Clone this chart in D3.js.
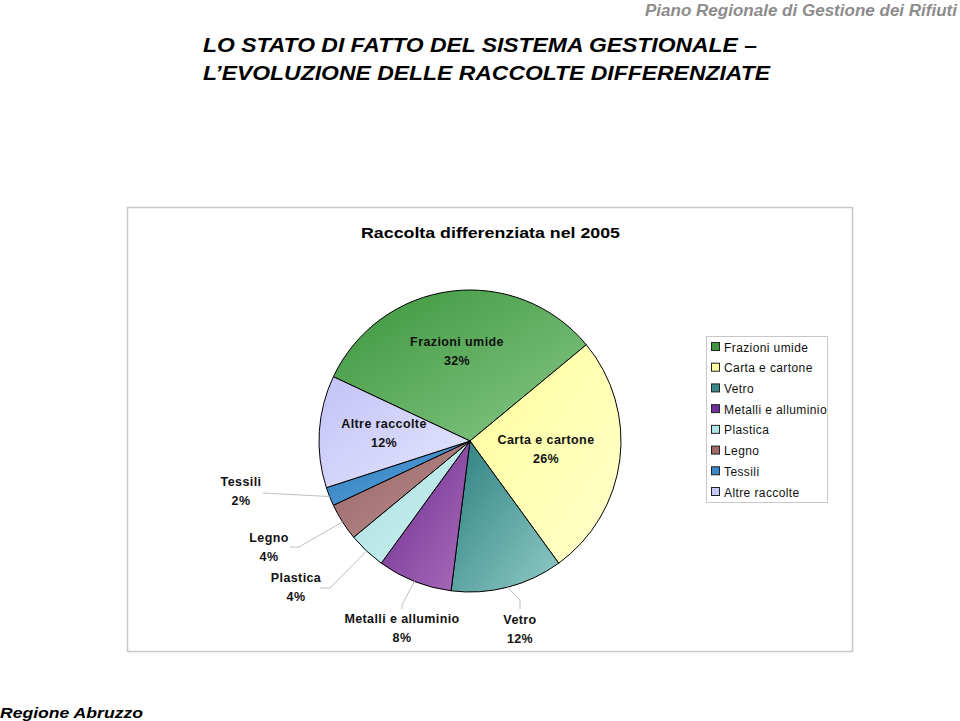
<!DOCTYPE html>
<html><head><meta charset="utf-8">
<script src="https://cdn.jsdelivr.net/npm/d3@7"></script>
<style>body{margin:0;background:#fff}svg{display:block}text{font-family:Arial,"Liberation Sans",sans-serif}</style>
</head><body>
<script>
const categories = ["Frazioni umide","Carta e cartone","Vetro","Metalli e alluminio","Plastica","Legno","Tessili","Altre raccolte"];
const values = [32,26,12,8,4,4,2,12];
const pctLabels = ["32%","26%","12%","8%","4%","4%","2%","12%"];
const colorsDark = ["#3b953b","#ffff9c","#2c8080","#6c2c8e","#a6dede","#996060","#2a7cbf","#c2c2f6"];
const colorsLight = ["#88c888","#ffffcc","#90cac6","#ab6cbb","#d2f2f2","#bb9494","#60a4da","#e6e6ff"];
const legendColors = ["#3f963f","#ffffa0","#3a8a8a","#70309a","#b0e6e6","#a06a6a","#3a88c8","#c8c8f8"];

const W=960,H=721;
const svg=d3.select("body").append("svg").attr("width",W).attr("height",H);

// header texts
svg.append("text").attr("x",957).attr("y",16).attr("text-anchor","end")
  .attr("font-size",16).attr("font-weight","bold").attr("font-style","italic").attr("fill","#8c8c8c")
  .attr("textLength",312).attr("lengthAdjust","spacingAndGlyphs")
  .text("Piano Regionale di Gestione dei Rifiuti");
svg.append("text").attr("x",203).attr("y",52).attr("font-size",21).attr("font-weight","bold").attr("font-style","italic")
  .attr("textLength",554).attr("lengthAdjust","spacingAndGlyphs")
  .text("LO STATO DI FATTO DEL SISTEMA GESTIONALE –");
svg.append("text").attr("x",203).attr("y",80).attr("font-size",21).attr("font-weight","bold").attr("font-style","italic")
  .attr("textLength",567).attr("lengthAdjust","spacingAndGlyphs")
  .text("L’EVOLUZIONE DELLE RACCOLTE DIFFERENZIATE");
svg.append("text").attr("x",0).attr("y",718).attr("font-size",15).attr("font-weight","bold").attr("font-style","italic")
  .attr("textLength",143).attr("lengthAdjust","spacingAndGlyphs")
  .text("Regione Abruzzo");

// chart frame
svg.append("rect").attr("x",127.5).attr("y",207.5).attr("width",725).attr("height",444)
  .attr("fill","#fff").attr("stroke","#c8c8c8").attr("stroke-width",1.5);
svg.append("text").attr("x",490.5).attr("y",238).attr("text-anchor","middle").attr("font-size",15).attr("font-weight","bold")
  .attr("textLength",259).attr("lengthAdjust","spacingAndGlyphs")
  .text("Raccolta differenziata nel 2005");

// gradients
const defs=svg.append("defs");
categories.forEach((c,i)=>{
  const g=defs.append("linearGradient").attr("id","g"+i).attr("x1",0).attr("y1",0).attr("x2",1).attr("y2",1);
  g.append("stop").attr("offset","0%").attr("stop-color",colorsDark[i]);
  g.append("stop").attr("offset","100%").attr("stop-color",colorsLight[i]);
});

const cx=470, cy=441, R=151;
const start=-64.8*Math.PI/180;
const pie=d3.pie().sort(null).value(d=>d).startAngle(start).endAngle(start+2*Math.PI);
const arcs=pie(values);
const arc=d3.arc().innerRadius(0).outerRadius(R);
const g=svg.append("g").attr("transform",`translate(${cx},${cy})`);
g.selectAll("path").data(arcs).join("path").attr("d",arc)
  .attr("fill",(d,i)=>`url(#g${i})`).attr("stroke","#000").attr("stroke-width",1);

// label layout (text baselines relative to pie centre), and leader elbows
const labelLayout = [
  {dx:-13,dy:-95,inside:true},
  {dx:76,dy:3,inside:true},
  {dx:50,dy:183,ax:50,ay:168,ex:50,ey:159},
  {dx:-68,dy:182,ax:-68,ay:168,ex:-68,ey:164},
  {dx:-174,dy:141,ax:-150,ay:147,ex:-140,ey:147},
  {dx:-201,dy:101,ax:-180,ay:106,ex:-171,ey:106},
  {dx:-229,dy:45,ax:-207,ay:52,ex:-207,ey:52},
  {dx:-86,dy:-13,inside:true}
];

arcs.forEach((a,i)=>{
  const L=labelLayout[i];
  if(!L.inside){
    const mid=(a.startAngle+a.endAngle)/2;
    const px=R*Math.sin(mid), py=-R*Math.cos(mid);
    const pts=[[L.ax,L.ay],[L.ex,L.ey],[px,py]];
    g.append("path").attr("d",d3.line()(pts)).attr("fill","none").attr("stroke","#c0c0c0").attr("stroke-width",1);
  }
  const t=g.append("text").attr("text-anchor","middle").attr("font-size",12.5).attr("font-weight","bold")
    .attr("letter-spacing","0.4").attr("fill","#111");
  t.append("tspan").attr("x",L.dx).attr("y",L.dy).text(categories[i]);
  t.append("tspan").attr("x",L.dx).attr("y",L.dy+19).text(pctLabels[i]);
});

// legend
const lg=svg.append("g");
lg.append("rect").attr("x",706.5).attr("y",336.5).attr("width",121).attr("height",166)
  .attr("fill","#fff").attr("stroke","#c8c8c8").attr("stroke-width",1);
const ly=d3.scalePoint().domain(categories).range([347,492]);
categories.forEach((c,i)=>{
  lg.append("rect").attr("x",711.5).attr("y",ly(c)-4.5).attr("width",8).attr("height",8)
    .attr("fill",legendColors[i]).attr("stroke","#222").attr("stroke-width",1);
  lg.append("text").attr("x",724).attr("y",ly(c)+4.5).attr("font-size",12).attr("letter-spacing","0.4").attr("fill","#111").text(c);
});
</script>
</body></html>
